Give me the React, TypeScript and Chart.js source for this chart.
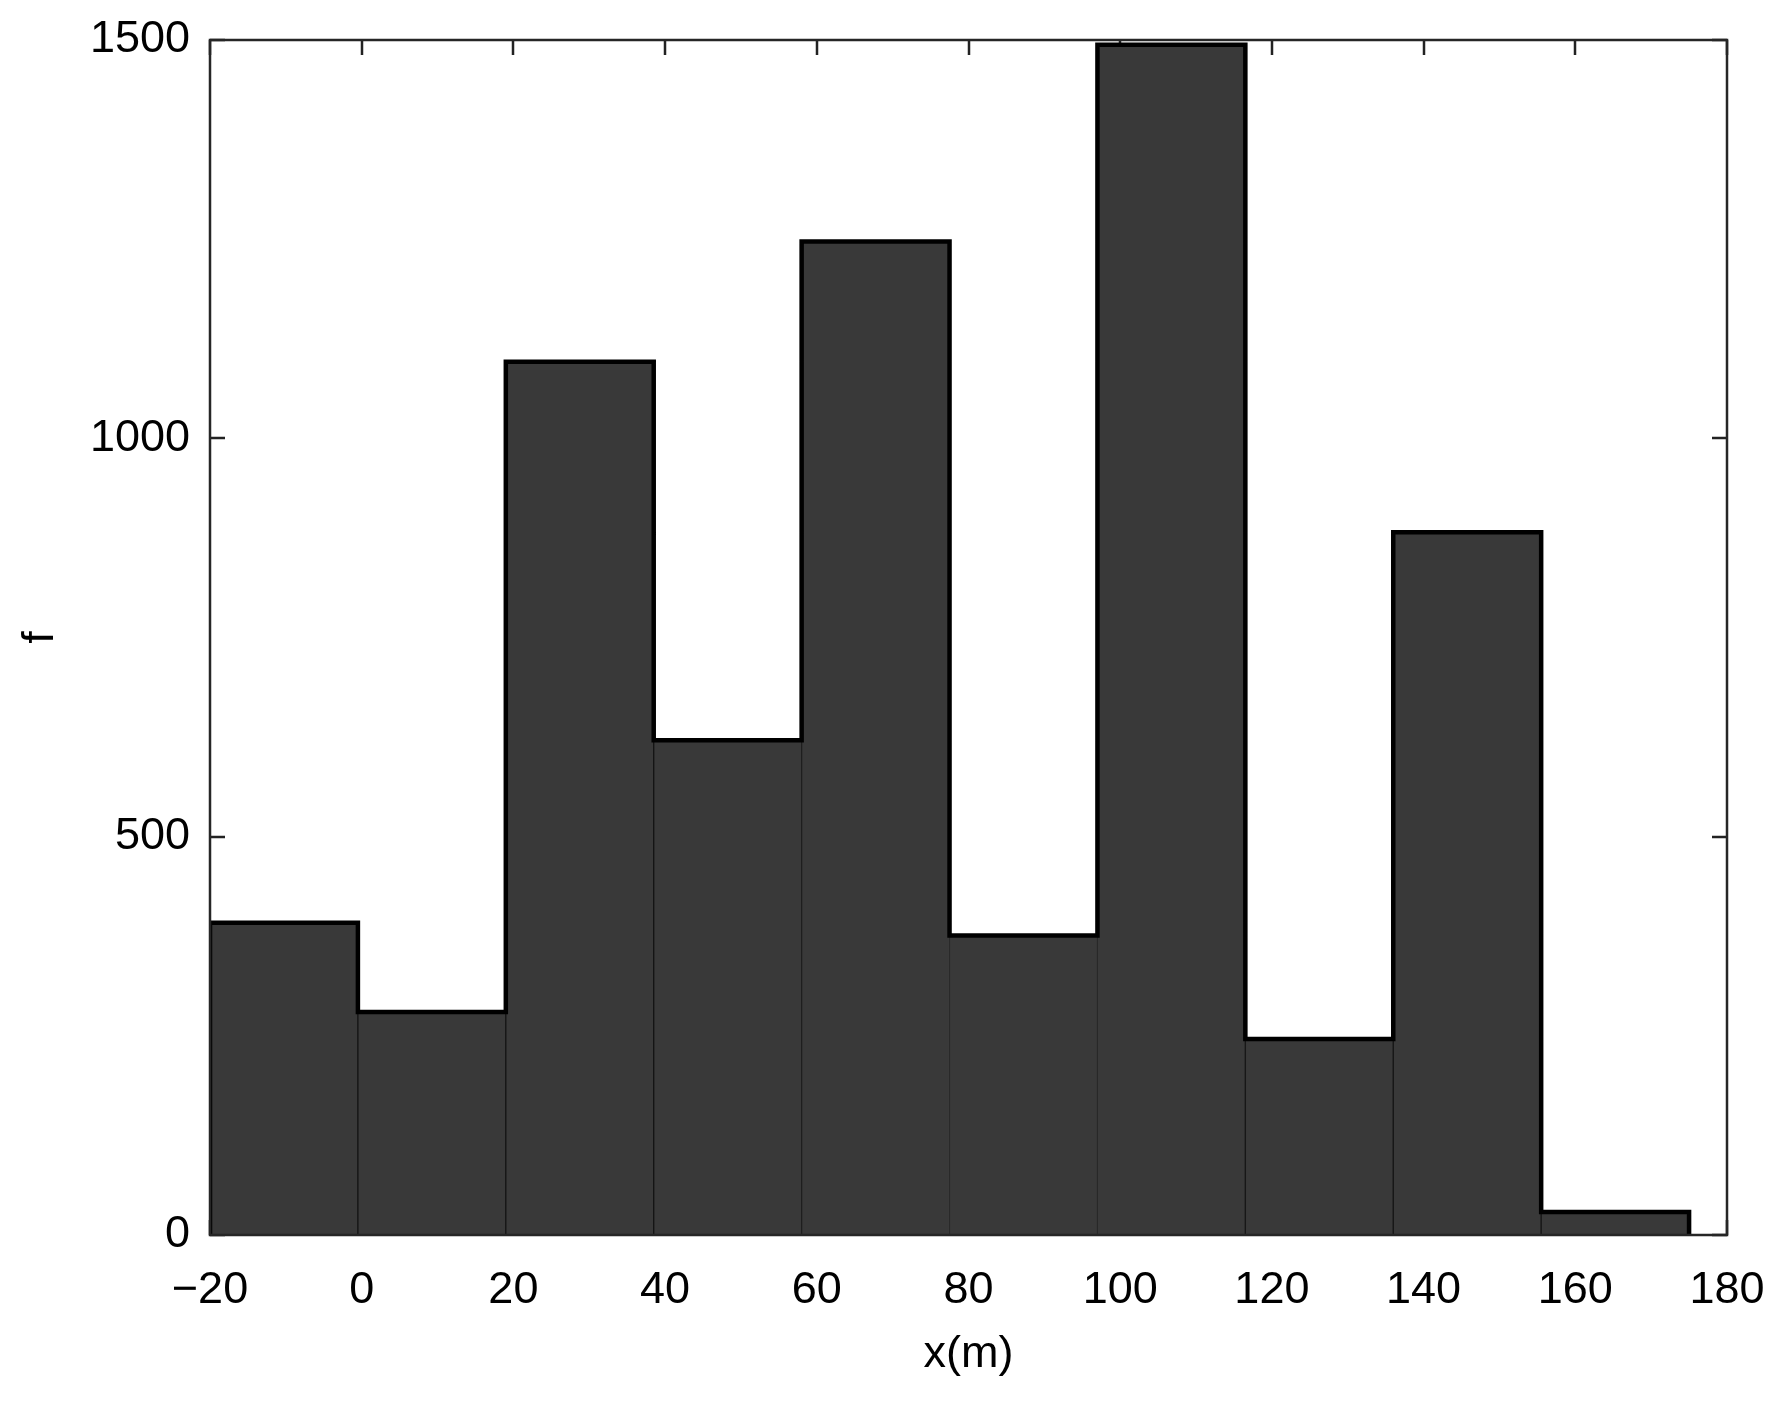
import React, { useEffect, useRef } from "react";
import { Chart, registerables } from "chart.js";

Chart.register(...registerables);

// Histogram bin edges (x in metres) and bin counts f
const binEdges = [-20, -0.5, 19, 38.5, 58, 77.5, 97, 116.5, 136, 155.5, 175];
const binCounts = [392, 280, 1096, 621, 1247, 376, 1494, 246, 882, 29];

const xTickValues = [-20, 0, 20, 40, 60, 80, 100, 120, 140, 160, 180];
const yTickValues = [0, 500, 1000, 1500];

const xTitle = "x(m)";
const yTitle = "f";

const FONT = "'Liberation Sans', Arial, Helvetica, sans-serif";

export default function App() {
  const canvasRef = useRef<HTMLCanvasElement | null>(null);

  useEffect(() => {
    document.body.style.margin = "0";
    const canvas = canvasRef.current;
    if (!canvas) return;

    const barData = binCounts.map((c, i) => ({
      x: (binEdges[i] + binEdges[i + 1]) / 2,
      y: c,
    }));

    const outline: { x: number; y: number }[] = [{ x: binEdges[0], y: 0 }];
    binCounts.forEach((c, i) => {
      outline.push({ x: binEdges[i], y: c });
      outline.push({ x: binEdges[i + 1], y: c });
    });
    outline.push({ x: binEdges[binEdges.length - 1], y: 0 });

    const tickLen = 15;
    const ticksPlugin = {
      id: "inwardTicks",
      beforeDatasetsDraw(chart: any) {
        const { ctx, chartArea, scales } = chart;
        const { left, right, top, bottom } = chartArea;
        ctx.save();
        ctx.strokeStyle = "#222222";
        ctx.lineWidth = 2.5;
        ctx.beginPath();
        xTickValues.forEach((v) => {
          const px = Math.round(scales.x.getPixelForValue(v));
          ctx.moveTo(px, bottom);
          ctx.lineTo(px, bottom - tickLen);
          ctx.moveTo(px, top);
          ctx.lineTo(px, top + tickLen);
        });
        yTickValues.forEach((v) => {
          const py = Math.round(scales.y.getPixelForValue(v));
          ctx.moveTo(left, py);
          ctx.lineTo(left + tickLen, py);
          ctx.moveTo(right, py);
          ctx.lineTo(right - tickLen, py);
        });
        ctx.stroke();
        ctx.restore();
      },
      afterDatasetsDraw(chart: any) {
        const { ctx, chartArea } = chart;
        const { left, right, top, bottom } = chartArea;
        ctx.save();
        ctx.strokeStyle = "#262626";
        ctx.lineWidth = 2.5;
        ctx.strokeRect(left, top, right - left, bottom - top);
        ctx.restore();
      },
    };

    const chart = new Chart(canvas, {
      type: "bar",
      data: {
        datasets: [
          {
            type: "line",
            data: outline,
            borderColor: "#000000",
            borderWidth: 4.5,
            pointRadius: 0,
            tension: 0,
            fill: false,
            order: 0,
          } as any,
          {
            type: "bar",
            data: barData,
            backgroundColor: "#393939",
            borderColor: "#151515",
            borderWidth: 1,
            borderSkipped: false,
            barPercentage: 1,
            categoryPercentage: 1,
            order: 1,
          } as any,
        ],
      },
      options: {
        responsive: false,
        animation: false,
        devicePixelRatio: 1,
        layout: { padding: { top: 40, right: 57, left: 0, bottom: 0 } },
        plugins: {
          legend: { display: false },
          tooltip: { enabled: false },
        },
        scales: {
          x: {
            type: "linear",
            offset: false,
            min: -20,
            max: 180,
            afterBuildTicks: (scale: any) => {
              scale.ticks = xTickValues.map((v) => ({ value: v }));
            },
            afterFit: (scale: any) => {
              scale.height = 173;
              scale.paddingLeft = 0;
              scale.paddingRight = 0;
            },
            grid: { display: false, drawTicks: false, offset: false },
            border: { display: false },
            ticks: {
              padding: 29,
              color: "#000",
              font: { family: FONT, size: 45 },
              callback: (v: any) => (Number(v) < 0 ? "\u2212" + Math.abs(Number(v)) : String(v)),
              maxRotation: 0,
              autoSkip: false,
            },
            title: {
              display: true,
              text: xTitle,
              color: "#000",
              font: { family: FONT, size: 45 },
              padding: { top: 26, bottom: 26 },
            },
          },
          y: {
            type: "linear",
            min: 0,
            max: 1500,
            afterBuildTicks: (scale: any) => {
              scale.ticks = yTickValues.map((v) => ({ value: v }));
            },
            afterFit: (scale: any) => {
              scale.width = 210;
              scale.paddingTop = 0;
              scale.paddingBottom = 0;
            },
            grid: { display: false, drawTicks: false },
            border: { display: false },
            ticks: {
              padding: 20,
              color: "#000",
              font: { family: FONT, size: 45 },
              autoSkip: false,
              callback: (v: any) => String(v),
            },
            title: {
              display: true,
              text: yTitle,
              color: "#000",
              font: { family: FONT, size: 45 },
              padding: { top: 14, bottom: 14 },
            },
          },
        },
      },
      plugins: [ticksPlugin],
    });

    return () => {
      chart.destroy();
    };
  }, []);

  return (
    <div style={{ width: 1784, height: 1408, background: "#fff" }}>
      <canvas ref={canvasRef} width={1784} height={1408} style={{ display: "block" }} />
    </div>
  );
}
